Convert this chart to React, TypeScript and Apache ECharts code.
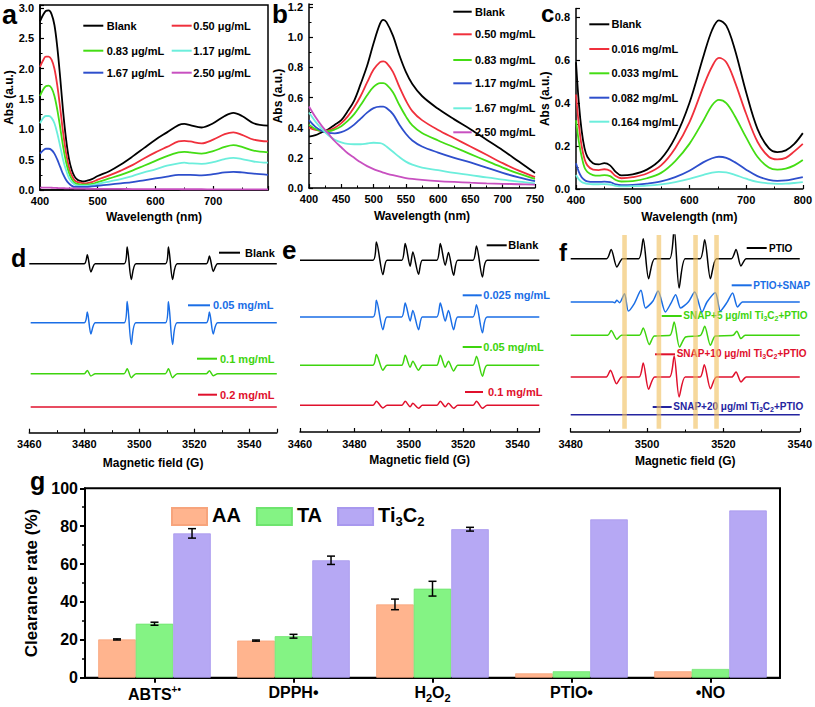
import React, { useEffect, useRef } from "react";
import * as echarts from "echarts";

const FONT = "'Liberation Sans', Arial, Helvetica, sans-serif";

// ---------- Panel a (ABTS, μg/mL) ----------
const A_WL = [400, 405, 410, 415, 420, 425, 430, 435, 440, 445, 450, 455, 460, 465, 470, 475, 480, 490, 500, 520, 540, 560, 580, 600, 620, 640, 650, 660, 680, 700, 720, 735, 750, 770, 795];
const A_NAMES = ["Blank", "0.50 μg/mL", "0.83 μg/mL", "1.17 μg/mL", "1.67 μg/mL", "2.50 μg/mL"];
const A_BLANK = [2.78, 2.88, 2.95, 2.96, 2.9, 2.72, 2.35, 1.85, 1.3, 0.85, 0.52, 0.33, 0.22, 0.17, 0.15, 0.14, 0.15, 0.18, 0.23, 0.31, 0.42, 0.55, 0.69, 0.83, 0.95, 1.07, 1.09, 1.07, 1.03, 1.1, 1.22, 1.27, 1.22, 1.1, 1.06];
const A_050 = [2.03, 2.13, 2.2, 2.2, 2.15, 2.0, 1.72, 1.35, 0.95, 0.62, 0.38, 0.24, 0.16, 0.13, 0.12, 0.11, 0.11, 0.13, 0.17, 0.24, 0.32, 0.41, 0.52, 0.62, 0.71, 0.8, 0.81, 0.8, 0.77, 0.83, 0.92, 0.95, 0.91, 0.83, 0.8];
const A_083 = [1.55, 1.65, 1.71, 1.72, 1.68, 1.55, 1.32, 1.03, 0.72, 0.47, 0.29, 0.18, 0.12, 0.1, 0.09, 0.09, 0.09, 0.1, 0.13, 0.19, 0.25, 0.32, 0.4, 0.48, 0.56, 0.62, 0.63, 0.62, 0.6, 0.64, 0.71, 0.74, 0.71, 0.65, 0.62];
const A_117 = [1.1, 1.18, 1.22, 1.22, 1.19, 1.1, 0.93, 0.72, 0.5, 0.33, 0.2, 0.13, 0.09, 0.07, 0.07, 0.07, 0.07, 0.08, 0.1, 0.14, 0.18, 0.23, 0.29, 0.34, 0.4, 0.44, 0.45, 0.44, 0.43, 0.46, 0.51, 0.53, 0.51, 0.47, 0.45];
const A_167 = [0.6, 0.65, 0.68, 0.68, 0.66, 0.6, 0.5, 0.38, 0.26, 0.17, 0.11, 0.07, 0.05, 0.05, 0.05, 0.05, 0.05, 0.06, 0.07, 0.09, 0.11, 0.13, 0.16, 0.19, 0.22, 0.25, 0.25, 0.25, 0.24, 0.26, 0.29, 0.3, 0.29, 0.27, 0.25];
const A_250 = [0.04, 0.04, 0.04, 0.04, 0.037, 0.035, 0.033, 0.031, 0.03, 0.028, 0.027, 0.026, 0.025, 0.024, 0.023, 0.022, 0.021, 0.02, 0.019, 0.018, 0.017, 0.016, 0.015, 0.014, 0.013, 0.013, 0.012, 0.012, 0.012, 0.011, 0.011, 0.011, 0.01, 0.01, 0.01];

// ---------- Panel b (DPPH, mg/mL) ----------
const B_WL = [400, 410, 420, 430, 440, 450, 460, 470, 480, 490, 500, 510, 515, 520, 530, 540, 550, 560, 575, 600, 625, 650, 675, 700, 725, 750];
const B_NAMES = ["Blank", "0.50 mg/mL", "0.83 mg/mL", "1.17 mg/mL", "1.67 mg/mL", "2.50 mg/mL"];
const B_BLANK = [0.34, 0.35, 0.37, 0.39, 0.42, 0.45, 0.51, 0.58, 0.69, 0.81, 0.96, 1.09, 1.115, 1.1, 1.01, 0.88, 0.77, 0.69, 0.61, 0.525, 0.455, 0.39, 0.32, 0.25, 0.175, 0.1];
const B_050 = [0.4, 0.385, 0.378, 0.382, 0.4, 0.43, 0.475, 0.535, 0.61, 0.7, 0.785, 0.835, 0.84, 0.83, 0.77, 0.67, 0.58, 0.51, 0.45, 0.385, 0.33, 0.275, 0.22, 0.165, 0.115, 0.072];
const B_083 = [0.42, 0.39, 0.378, 0.377, 0.388, 0.41, 0.445, 0.49, 0.55, 0.615, 0.67, 0.695, 0.695, 0.685, 0.635, 0.55, 0.475, 0.415, 0.365, 0.315, 0.27, 0.225, 0.18, 0.135, 0.095, 0.06];
const B_117 = [0.45, 0.405, 0.378, 0.365, 0.362, 0.37, 0.39, 0.42, 0.46, 0.5, 0.53, 0.54, 0.54, 0.53, 0.49, 0.42, 0.36, 0.315, 0.275, 0.235, 0.2, 0.17, 0.135, 0.1, 0.07, 0.045];
const B_167 = [0.5, 0.44, 0.39, 0.35, 0.32, 0.302, 0.292, 0.29, 0.29, 0.295, 0.3, 0.297, 0.29, 0.275, 0.24, 0.205, 0.175, 0.155, 0.135, 0.118, 0.1, 0.086, 0.07, 0.056, 0.042, 0.03];
const B_250 = [0.54, 0.47, 0.41, 0.36, 0.31, 0.27, 0.23, 0.2, 0.17, 0.145, 0.125, 0.11, 0.102, 0.096, 0.085, 0.075, 0.066, 0.06, 0.054, 0.046, 0.04, 0.035, 0.031, 0.028, 0.025, 0.022];

// ---------- Panel c (mg/mL) ----------
const C_WL = [400, 405, 410, 415, 420, 430, 440, 450, 460, 470, 480, 500, 525, 550, 575, 600, 625, 640, 652, 665, 680, 700, 720, 740, 755, 770, 785, 800];
const C_NAMES = ["Blank", "0.016 mg/mL", "0.033 mg/mL", "0.082 mg/mL", "0.164 mg/mL"];
const C_BLANK = [0.59, 0.4, 0.27, 0.19, 0.15, 0.12, 0.115, 0.12, 0.11, 0.08, 0.063, 0.068, 0.09, 0.14, 0.24, 0.4, 0.62, 0.74, 0.785, 0.76, 0.65, 0.45, 0.28, 0.19, 0.172, 0.18, 0.21, 0.26];
const C_016 = [0.44, 0.3, 0.2, 0.14, 0.11, 0.09, 0.088, 0.092, 0.085, 0.06, 0.05, 0.055, 0.072, 0.11, 0.19, 0.31, 0.48, 0.57, 0.61, 0.59, 0.5, 0.35, 0.22, 0.15, 0.138, 0.145, 0.175, 0.21];
const C_033 = [0.32, 0.22, 0.15, 0.1, 0.08, 0.065, 0.062, 0.065, 0.06, 0.042, 0.035, 0.037, 0.05, 0.075, 0.13, 0.21, 0.32, 0.39, 0.415, 0.4, 0.34, 0.24, 0.15, 0.1, 0.09, 0.095, 0.11, 0.135];
const C_082 = [0.12, 0.08, 0.055, 0.042, 0.036, 0.033, 0.033, 0.034, 0.032, 0.022, 0.018, 0.019, 0.025, 0.035, 0.055, 0.085, 0.125, 0.143, 0.15, 0.145, 0.125, 0.09, 0.06, 0.043, 0.038, 0.04, 0.047, 0.055];
const C_164 = [0.065, 0.045, 0.033, 0.027, 0.024, 0.022, 0.022, 0.023, 0.021, 0.015, 0.012, 0.013, 0.016, 0.022, 0.032, 0.047, 0.066, 0.076, 0.08, 0.077, 0.066, 0.048, 0.033, 0.026, 0.024, 0.025, 0.028, 0.032];

// ---------- Panel d (ESR, field G, signal a.u.) ----------
const D_NAMES = ["Blank", "0.05 mg/mL", "0.1 mg/mL", "0.2 mg/mL"];
const D_BLANK = [[3460, 0], [3480, 0], [3481.1, 9], [3482.4, -8.3], [3484, 0], [3494.5, 0], [3495.6, 16.7], [3497.1, -15.7], [3498.8, 0], [3509.5, 0], [3510.6, 16.7], [3512.1, -15.7], [3513.8, 0], [3524.4, 0], [3525.5, 7.7], [3526.9, -7.7], [3528.5, 0], [3550, 0]];
const D_005 = [[3460.5, 0], [3480, 0], [3481.1, 10.7], [3482.4, -11.3], [3484, 0], [3494.5, 0], [3495.6, 21.3], [3497.1, -21.7], [3498.8, 0], [3509.5, 0], [3510.6, 21], [3512.1, -21.7], [3513.8, 0], [3524.4, 0], [3525.5, 10.7], [3526.9, -11.3], [3528.5, 0], [3550, 0]];
const D_01 = [[3460.5, 0], [3480, 0], [3481.1, 3.3], [3482.4, -2.3], [3484, 0], [3494.5, 0], [3495.6, 5], [3497.1, -4], [3498.8, 0], [3509.5, 0], [3510.6, 5], [3512.1, -4], [3513.8, 0], [3524.4, 0], [3525.5, 3], [3526.9, -2], [3528.5, 0], [3550, 0]];
const D_02 = [[3460.5, 0], [3550, 0]];

// ---------- Panel e ----------
const E_NAMES = ["Blank", "0.025 mg/mL", "0.05 mg/mL", "0.1 mg/mL"];
const E_BLANK = [[3460, 0], [3486.8, 0], [3488.1, 18.3], [3490.5, -14.3], [3492, 0], [3497.4, 0], [3498.7, 16.7], [3500.5, -6], [3501.5, 8.3], [3503.6, -14], [3505, 0], [3510.3, 0], [3511.6, 16.7], [3513.4, -5], [3514.6, 7.7], [3516.5, -15], [3518, 0], [3523.6, 0], [3524.9, 14.3], [3527.1, -16.7], [3528.8, 0], [3548, 0]];
const E_0025 = [[3460, 0], [3486.8, 0], [3488.1, 16.7], [3490.5, -12.7], [3492, 0], [3497.4, 0], [3498.7, 14], [3500.5, -4], [3501.5, 6.5], [3503.6, -12.7], [3505, 0], [3510.3, 0], [3511.6, 14], [3513.4, -4], [3514.6, 6.5], [3516.5, -12.7], [3518, 0], [3523.6, 0], [3524.9, 12.3], [3527.1, -15.7], [3528.8, 0], [3548, 0]];
const E_005 = [[3460, 0], [3486.8, 0], [3488.1, 10.7], [3490.5, -5], [3492, 0], [3497.4, 0], [3498.7, 10], [3500.5, -2], [3501.5, 4], [3503.6, -5], [3505, 0], [3510.3, 0], [3511.6, 10], [3513.4, -2], [3514.6, 4], [3516.5, -5.7], [3518, 0], [3523.6, 0], [3524.9, 9], [3527.1, -11], [3528.8, 0], [3548, 0]];
const E_01 = [[3460, 0], [3486.8, 0], [3488.1, 4], [3490.5, -2.7], [3492, 0], [3497.4, 0], [3498.7, 4], [3500.5, -1.5], [3501.5, 2], [3503.6, -3], [3505, 0], [3510.3, 0], [3511.6, 4], [3513.4, -1.5], [3514.6, 2], [3516.5, -3], [3518, 0], [3523.6, 0], [3524.9, 4], [3527.1, -3], [3528.8, 0], [3548, 0]];

// ---------- Panel f ----------
const F_PTIO = [[3480, 0], [3489.4, 0], [3490.6, 9.3], [3492.1, -8.3], [3493.6, 0], [3497.8, 0], [3499.0, 20], [3500.4, -20], [3502, 0], [3505.9, 0], [3507.1, 30], [3508.4, -29.3], [3510, 0], [3513.9, 0], [3515.1, 19], [3516.6, -20], [3518.2, 0], [3522.1, 0], [3523.3, 9.3], [3524.6, -7.3], [3526, 0], [3540, 0]];
const F_SNAP = [[3480, 0], [3491, 0], [3491.5, -0.7], [3492.1, 1.7], [3492.8, -0.7], [3494.1, 8.3], [3495.1, -9], [3496.7, -1.3], [3498.4, 11.7], [3499.6, -6], [3501.5, 0.7], [3502.9, 11], [3504.8, -10], [3506.2, -1.7], [3507.5, 7.3], [3508.8, -6], [3510.8, 0], [3512.5, 10], [3514.4, -10], [3515.7, 0], [3517.9, 9.3], [3519.2, -9], [3520.9, -0.7], [3522.4, 9], [3523.7, -5], [3525, 0], [3540, 0]];
const F_SNAP5 = [[3480, 0], [3489.7, 0], [3490.6, 4.7], [3492.1, -4], [3493.3, 0], [3498, 0], [3499, 7.3], [3500.6, -9.3], [3501.9, -0.7], [3506, 0], [3507.1, 13.3], [3508.5, -11.7], [3510.1, -1.7], [3514, 0], [3515.1, 9], [3516.6, -10], [3517.9, -0.7], [3522.5, 0], [3523.5, 4], [3524.6, -3.3], [3525.7, 0], [3540, 0]];
const F_SNAP10 = [[3480, 0], [3489.3, 0], [3490.4, 6.7], [3492, -6.7], [3493.4, 0], [3497.9, 0], [3499, 14], [3500.4, -12.3], [3502, 0], [3505.9, 0], [3507.1, 21], [3508.4, -20], [3510, 0], [3513.9, 0], [3515, 12.3], [3516.6, -11.7], [3518.2, 0], [3522.2, 0], [3523.3, 5], [3524.6, -5], [3526, 0], [3540, 0]];
const F_SNAP20 = [[3480, 0], [3540, 0]];
const F_BANDS = [[3493.5, 3494.7], [3502.5, 3503.7], [3512.1, 3513.3], [3517.6, 3518.8]];

// ---------- Panel g ----------
const G_CATS = ["ABTS+•", "DPPH•", "H2O2", "PTIO•", "•NO"];
const G_NAMES = ["AA", "TA", "Ti3C2"];
const G_AA = [20.2, 19.6, 38.7, 2.3, 3.4];
const G_TA = [28.5, 21.9, 47.0, 3.4, 4.6];
const G_TI = [76.2, 62.0, 78.4, 83.6, 88.3];
const G_AA_ERR = [0.3, 0.3, 2.8, 0, 0];
const G_TA_ERR = [0.8, 1.0, 3.9, 0, 0];
const G_TI_ERR = [2.5, 2.2, 1.0, 0, 0];

// ---------- styling ----------
const BLACK = "#000000";
const RED = "#f0303c";
const GREEN = "#44dd14";
const CYAN = "#6ceedc";
const BLUE = "#2e4fcc";
const MAGENTA = "#c850c0";
const E_BLUE = "#1a6ee6";
const E_GREEN = "#3ed40e";
const E_RED = "#e0102c";
const NAVY = "#2424a0";
const BAR_COLORS = ["#ffb48e", "#84f384", "#b6a8f4"];
const BAR_BORDERS = ["#f7a47c", "#6ee46e", "#a898ee"];

const bold = (size: number, color = "#000") => ({ fontSize: size, fontWeight: "bold" as const, fontFamily: FONT, color });

function zip(xs: number[], ys: number[]) {
  return xs.map((x, i) => [x, ys[i]]);
}

function stepFormatter(step: number, digits: number) {
  return (v: number) => (Math.abs(v / step - Math.round(v / step)) < 1e-6 ? v.toFixed(digits) : "");
}

function uvX(gi: number, min: number, max: number, interval: number, nameGap: number) {
  return {
    type: "value", gridIndex: gi, min, max, interval,
    axisLine: { show: true, lineStyle: { color: BLACK, width: 1.5 } },
    axisTick: { show: true, inside: true, length: 4, lineStyle: { color: BLACK, width: 1.2 } },
    minorTick: { show: true, splitNumber: 2, length: 2.5, lineStyle: { color: BLACK, width: 1 } },
    splitLine: { show: false },
    axisLabel: { ...bold(11), margin: 5, formatter: stepFormatter(interval, 0) },
    name: "Wavelength (nm)", nameLocation: "middle", nameGap, nameTextStyle: bold(12),
  };
}
function uvY(gi: number, max: number, interval: number, nameGap: number) {
  return {
    type: "value", gridIndex: gi, min: 0, max, interval,
    axisLine: { show: true, lineStyle: { color: BLACK, width: 1.5 } },
    axisTick: { show: true, inside: true, length: 4, lineStyle: { color: BLACK, width: 1.2 } },
    minorTick: { show: true, splitNumber: 2, length: 2.5, lineStyle: { color: BLACK, width: 1 } },
    splitLine: { show: false },
    axisLabel: { ...bold(11), margin: 6, formatter: stepFormatter(interval, 1) },
    name: "Abs (a.u.)", nameLocation: "middle", nameGap, nameTextStyle: bold(12),
  };
}
function eprX(gi: number, min: number, max: number, nameGap: number) {
  return {
    type: "value", gridIndex: gi, min, max, interval: 20,
    axisLine: { show: true, lineStyle: { color: BLACK, width: 1.5 } },
    axisTick: { show: true, inside: true, length: 4, lineStyle: { color: BLACK, width: 1.2 } },
    minorTick: { show: true, splitNumber: 2, length: 2.5, lineStyle: { color: BLACK, width: 1 } },
    splitLine: { show: false },
    axisLabel: { ...bold(11), margin: 6, formatter: stepFormatter(20, 0) },
    name: "Magnetic field (G)", nameLocation: "middle", nameGap, nameTextStyle: bold(12),
  };
}
function eprY(gi: number, h: number) {
  return { type: "value", gridIndex: gi, min: 0, max: h, show: false, splitLine: { show: false } };
}

function uvSeries(gi: number, name: string, xs: number[], ys: number[], color: string) {
  return {
    type: "line", name, xAxisIndex: gi, yAxisIndex: gi, data: zip(xs, ys),
    showSymbol: false, symbol: "none", smooth: 0.35, clip: true,
    lineStyle: { color, width: 1.8 }, z: 3,
  };
}
function eprSeries(gi: number, name: string, pts: number[][], offset: number, color: string) {
  return {
    type: "line", name, xAxisIndex: gi, yAxisIndex: gi,
    data: pts.map((p) => [p[0], p[1] + offset]),
    showSymbol: false, symbol: "none", smooth: 0.25, clip: true,
    lineStyle: { color, width: 1.5 }, z: 3,
  };
}

function legendItem(x1: number, x2: number, y: number, tx: number, text: string, color: string, size: number, lineColor?: string, rich?: any) {
  const t: any = {
    type: "text", x: tx, y,
    style: { text, fill: color, fontSize: size, fontWeight: "bold", fontFamily: FONT, align: "left", verticalAlign: "middle" },
  };
  if (rich) t.style.rich = rich;
  return [
    { type: "line", shape: { x1, y1: y, x2, y2: y }, style: { stroke: lineColor || color, lineWidth: 2 } },
    t,
  ];
}
function panelLetter(ch: string, x: number, y: number, size: number) {
  return { type: "text", x, y, style: { text: ch, fill: "#000", fontSize: size, fontWeight: "bold", fontFamily: FONT, align: "left", verticalAlign: "top" } };
}

function errorSeries(k: number, vals: number[], errs: number[]) {
  return {
    type: "custom", xAxisIndex: 6, yAxisIndex: 6, z: 5,
    data: vals.map((v, i) => [i, v, errs[i]]),
    encode: { x: 0, y: 1 },
    renderItem: (params: any, api: any) => {
      const ci = api.value(0), v = api.value(1), e = api.value(2);
      if (!e) return null;
      const band = api.size([1, 0])[0];
      const barW = (band * (1 - 0.19)) / 3;
      const c = api.coord([ci, v]);
      const x = c[0] + (k - 1) * barW;
      const yt = api.coord([ci, v + e])[1];
      const yb = api.coord([ci, v - e])[1];
      const st = { stroke: "#000", lineWidth: 1.5 };
      return {
        type: "group",
        children: [
          { type: "line", shape: { x1: x, y1: yt, x2: x, y2: yb }, style: st },
          { type: "line", shape: { x1: x - 4, y1: yt, x2: x + 4, y2: yt }, style: st },
          { type: "line", shape: { x1: x - 4, y1: yb, x2: x + 4, y2: yb }, style: st },
        ],
      };
    },
  };
}

function bandSeries() {
  return {
    type: "custom", xAxisIndex: 5, yAxisIndex: 5, z: 6,
    data: F_BANDS.map((b) => [b[0], b[1]]),
    encode: { x: [0, 1] },
    renderItem: (params: any, api: any) => {
      const p0 = api.coord([api.value(0), 197]);
      const p1 = api.coord([api.value(1), 3.3]);
      return {
        type: "rect",
        shape: { x: p0[0], y: p0[1], width: p1[0] - p0[0], height: p1[1] - p0[1] },
        style: { fill: "rgba(240,192,96,0.62)" },
      };
    },
  };
}

const catRich = {
  a: { ...bold(16), verticalAlign: "bottom", padding: [0, 0, 3, 0] },
  sub: { ...bold(11), verticalAlign: "bottom", padding: [0, 0, 0, 0] },
  sup: { ...bold(10), verticalAlign: "bottom", padding: [0, 0, 11, 0] },
};
const legRich = {
  a: { ...bold(20), verticalAlign: "bottom", padding: [0, 0, 3, 0] },
  sub: { ...bold(13), verticalAlign: "bottom", padding: [0, 0, 0, 0] },
};
const fRich = (color: string) => ({
  a: { fontSize: 10, fontWeight: "bold", fontFamily: FONT, color, verticalAlign: "bottom", padding: [0, 0, 2, 0] },
  sub: { fontSize: 7, fontWeight: "bold", fontFamily: FONT, color, verticalAlign: "bottom", padding: [0, 0, 0, 0] },
});

function buildOption() {
  const grids = [
    { left: 40, top: 5, width: 228, height: 185, show: true, borderColor: BLACK, borderWidth: 1.5 },
    { left: 309, top: 4, width: 226, height: 184 },
    { left: 576, top: 8.5, width: 227, height: 180.5 },
    { left: 29.3, top: 235, width: 247.5, height: 197.7 },
    { left: 300, top: 235, width: 239.3, height: 197 },
    { left: 570.7, top: 235, width: 231, height: 197 },
    { left: 85, top: 488.3, width: 695, height: 189.4, show: true, borderColor: BLACK, borderWidth: 2 },
  ];

  const xAxis: any[] = [
    uvX(0, 400, 795, 100, 21),
    uvX(1, 400, 750, 50, 22),
    uvX(2, 400, 800, 100, 22),
    eprX(3, 3460, 3550, 24),
    eprX(4, 3460, 3548, 22),
    eprX(5, 3480, 3540, 23),
    {
      type: "category", gridIndex: 6, data: G_CATS,
      axisLine: { show: true, lineStyle: { color: BLACK, width: 2 } },
      axisTick: { show: true, alignWithLabel: true, length: 5, lineStyle: { color: BLACK, width: 2 } },
      axisLabel: {
        margin: 7, interval: 0, rich: catRich,
        formatter: (v: string) => {
          if (v === "ABTS+•") return "{a|ABTS}{sup|+•}";
          if (v === "H2O2") return "{a|H}{sub|2}{a|O}{sub|2}";
          return "{a|" + v + "}";
        },
      },
      splitLine: { show: false },
    },
  ];
  const yAxis: any[] = [
    uvY(0, 3.05, 0.5, 24),
    uvY(1, 1.22, 0.2, 25),
    uvY(2, 0.84, 0.2, 25),
    eprY(3, 197.7),
    eprY(4, 197),
    eprY(5, 197),
    {
      type: "value", gridIndex: 6, min: 0, max: 100, interval: 20,
      axisLine: { show: true, lineStyle: { color: BLACK, width: 2 } },
      axisTick: { show: true, length: 5, lineStyle: { color: BLACK, width: 2 } },
      minorTick: { show: true, splitNumber: 2, length: 3, lineStyle: { color: BLACK, width: 1.5 } },
      splitLine: { show: false },
      axisLabel: { ...bold(16), margin: 7 },
      name: "Clearance rate (%)", nameLocation: "middle", nameGap: 37, nameTextStyle: bold(17),
    },
  ];

  const A_SER = [A_BLANK, A_050, A_083, A_117, A_167, A_250];
  const A_COL = [BLACK, RED, GREEN, CYAN, BLUE, MAGENTA];
  const B_SER = [B_BLANK, B_050, B_083, B_117, B_167, B_250];
  const B_COL = [BLACK, RED, GREEN, BLUE, CYAN, MAGENTA];
  const C_SER = [C_BLANK, C_016, C_033, C_082, C_164];
  const C_COL = [BLACK, RED, GREEN, BLUE, CYAN];

  const D_SER = [D_BLANK, D_005, D_01, D_02];
  const D_OFF = [169, 110, 59, 25.7];
  const D_COL = [BLACK, E_BLUE, E_GREEN, E_RED];
  const E_SER = [E_BLANK, E_0025, E_005, E_01];
  const E_OFF = [171.7, 115, 66.7, 26.7];
  const F_SER = [F_PTIO, F_SNAP, F_SNAP5, F_SNAP10, F_SNAP20];
  const F_OFF = [173.3, 130, 96.7, 55, 17.3];
  const F_COL = [BLACK, E_BLUE, E_GREEN, E_RED, NAVY];
  const F_KEYS = ["PTIO", "PTIO+SNAP", "SNAP+5", "SNAP+10", "SNAP+20"];

  const series: any[] = [];
  A_SER.forEach((s, i) => series.push(uvSeries(0, A_NAMES[i], A_WL, s, A_COL[i])));
  B_SER.forEach((s, i) => series.push(uvSeries(1, B_NAMES[i], B_WL, s, B_COL[i])));
  C_SER.forEach((s, i) => series.push(uvSeries(2, C_NAMES[i], C_WL, s, C_COL[i])));
  D_SER.forEach((s, i) => series.push(eprSeries(3, "d " + D_NAMES[i], s, D_OFF[i], D_COL[i])));
  E_SER.forEach((s, i) => series.push(eprSeries(4, "e " + E_NAMES[i], s, E_OFF[i], D_COL[i])));
  F_SER.forEach((s, i) => series.push(eprSeries(5, "f " + F_KEYS[i], s, F_OFF[i], F_COL[i])));
  series.push(bandSeries());

  [G_AA, G_TA, G_TI].forEach((vals, k) => {
    series.push({
      type: "bar", name: G_NAMES[k], xAxisIndex: 6, yAxisIndex: 6, data: vals,
      barGap: "0%", barCategoryGap: "19%",
      itemStyle: { color: BAR_COLORS[k], borderColor: BAR_BORDERS[k], borderWidth: 0.8 },
    });
  });
  series.push(errorSeries(0, G_AA, G_AA_ERR));
  series.push(errorSeries(1, G_TA, G_TA_ERR));
  series.push(errorSeries(2, G_TI, G_TI_ERR));

  const graphic: any[] = [
    panelLetter("a", 2, 1, 27),
    panelLetter("b", 272, 1, 26),
    panelLetter("c", 541, 1, 24),
    panelLetter("d", 11, 245, 25),
    panelLetter("e", 282, 237, 26),
    panelLetter("f", 559, 240, 24),
    panelLetter("g", 30, 468, 25),
  ];

  const aPos = [[83.3, 103.3, 25.7, 106.7], [171.7, 191.7, 25.7, 193.3], [83.3, 103.3, 50.7, 106.7], [171.7, 191.7, 50.7, 193.3], [83.3, 103.3, 72.7, 106.7], [171.7, 191.7, 72.7, 193.3]];
  A_NAMES.forEach((n, i) => graphic.push(...legendItem(aPos[i][0], aPos[i][1], aPos[i][2], aPos[i][3], n, BLACK, 11, A_COL[i])));
  const bRows = [11.7, 34.3, 60, 83.3, 108.3, 132.3];
  B_NAMES.forEach((n, i) => graphic.push(...legendItem(453.3, 471.7, bRows[i], 475, n, BLACK, 11, B_COL[i])));
  const cRows = [24.3, 49, 73.3, 97.7, 121.7];
  C_NAMES.forEach((n, i) => graphic.push(...legendItem(589.3, 609.3, cRows[i], 611.5, n, BLACK, 11, C_COL[i])));

  // d legend
  graphic.push(...legendItem(219, 240, 252.7, 245, D_NAMES[0], BLACK, 11));
  graphic.push(...legendItem(188, 210, 305.3, 213, D_NAMES[1], E_BLUE, 11));
  graphic.push(...legendItem(197, 217, 358.7, 220, D_NAMES[2], E_GREEN, 11));
  graphic.push(...legendItem(198, 217, 394.7, 220, D_NAMES[3], E_RED, 11));
  // e legend
  graphic.push(...legendItem(486.7, 506.7, 245.3, 508.3, E_NAMES[0], BLACK, 11));
  graphic.push(...legendItem(462.7, 481.7, 295.3, 483.3, E_NAMES[1], E_BLUE, 11));
  graphic.push(...legendItem(462.7, 481.7, 347, 483.3, E_NAMES[2], E_GREEN, 11));
  graphic.push(...legendItem(465, 483, 392, 488, E_NAMES[3], E_RED, 11));
  // f legend
  graphic.push(...legendItem(746.7, 766.7, 248, 769, "PTIO", BLACK, 10));
  graphic.push(...legendItem(731.7, 751.7, 285.3, 753.3, "PTIO+SNAP", E_BLUE, 10));
  graphic.push(...legendItem(661.7, 681.7, 316, 683.3, "{a|SNAP+5 μg/ml Ti}{sub|3}{a|C}{sub|2}{a|+PTIO}", E_GREEN, 10, E_GREEN, fRich(E_GREEN)));
  graphic.push(...legendItem(655, 675, 354.3, 676.7, "{a|SNAP+10 μg/ml Ti}{sub|3}{a|C}{sub|2}{a|+PTIO}", E_RED, 10, E_RED, fRich(E_RED)));
  graphic.push(...legendItem(652.7, 671.7, 407, 673.3, "{a|SNAP+20 μg/ml Ti}{sub|3}{a|C}{sub|2}{a|+PTIO}", NAVY, 10, NAVY, fRich(NAVY)));

  return {
    animation: false,
    backgroundColor: "#ffffff",
    grid: grids,
    xAxis,
    yAxis,
    series,
    graphic,
    legend: {
      data: G_NAMES, left: 166, top: 500, itemWidth: 35, itemHeight: 17, itemGap: 15, icon: "rect",
      textStyle: { ...bold(20), rich: legRich },
      formatter: (n: string) => (n === "Ti3C2" ? "{a|Ti}{sub|3}{a|C}{sub|2}" : "{a|" + n + "}"),
    },
  };
}

export default function App() {
  const ref = useRef<HTMLDivElement>(null);
  useEffect(() => {
    document.body.style.margin = "0";
    const chart = echarts.init(ref.current!, null, { renderer: "svg" });
    chart.setOption(buildOption() as any);
    return () => chart.dispose();
  }, []);
  return <div ref={ref} style={{ width: 815, height: 707 }} />;
}
